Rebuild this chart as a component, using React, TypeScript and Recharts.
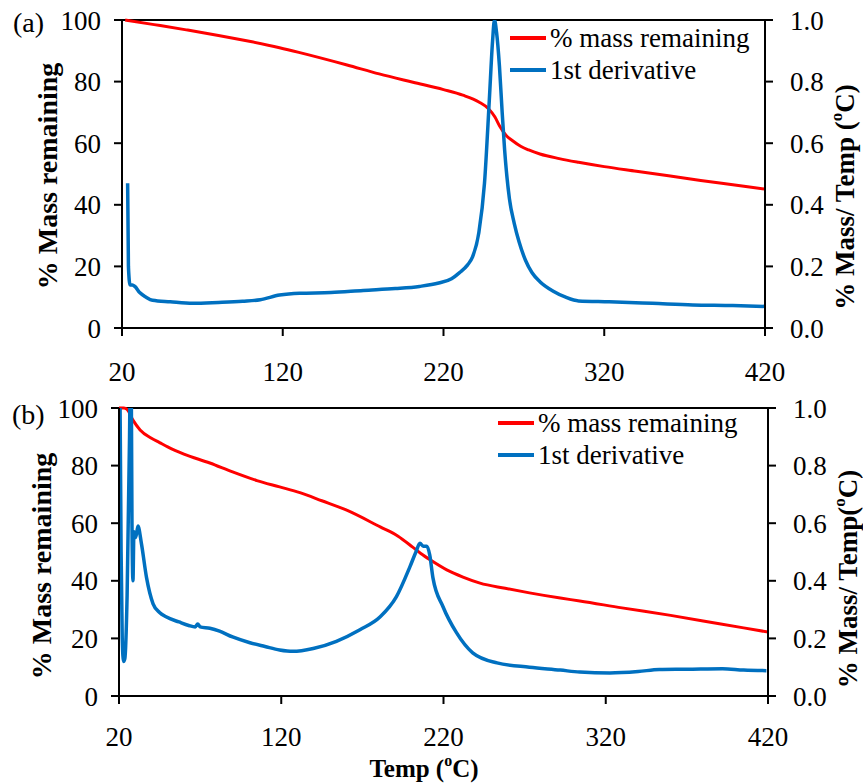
import { Line, LineChart, ReferenceLine, XAxis, YAxis } from "recharts";

const FONT = '"Liberation Serif", "Times New Roman", serif';
const RED = "#ff0000";
const BLUE = "#0070c0";

const xTicks = [20, 120, 220, 320, 420];
const massTicks = [0, 20, 40, 60, 80, 100];
const derivTicks = [0, 0.2, 0.4, 0.6, 0.8, 1.0];
const seriesNames = ["% mass remaining", "1st derivative"];

// panel (a)
const massATemp = [22, 40, 60, 80, 100, 118, 130, 160, 180, 201, 220, 232, 242, 248, 252, 255, 259, 263, 268, 273, 280, 292, 304, 320, 340, 360, 380, 400, 420];
const massA = [100, 98.5, 96.8, 95.0, 93.0, 91.0, 89.5, 85.4, 82.5, 79.8, 77.4, 75.6, 73.4, 71.2, 68.5, 65.5, 62.5, 60.8, 59.0, 57.8, 56.5, 55.0, 53.8, 52.4, 50.9, 49.4, 47.9, 46.5, 45.1];
const derivATemp = [23.5, 24, 25, 26.5, 28, 31, 35, 39, 50, 64, 80, 95, 106, 118, 130.5, 150, 170, 190, 205, 217, 225, 230, 235, 238, 242, 245.5, 248.5, 250.5, 251.7, 253, 254.8, 256.5, 258, 261, 264, 267, 271, 275, 280, 288, 296, 304, 323, 350, 375, 400, 420];
const derivA = [0.47, 0.2, 0.14, 0.14, 0.135, 0.115, 0.1, 0.09, 0.085, 0.08, 0.083, 0.087, 0.092, 0.107, 0.113, 0.115, 0.122, 0.128, 0.135, 0.146, 0.16, 0.18, 0.205, 0.23, 0.31, 0.47, 0.74, 0.93, 1.0, 0.96, 0.85, 0.7, 0.58, 0.42, 0.34, 0.28, 0.22, 0.18, 0.15, 0.12, 0.1, 0.088, 0.085, 0.08, 0.075, 0.073, 0.07];

// panel (b)
const massBTemp = [20, 23, 25, 28.6, 33, 40, 45, 50, 60, 76, 90, 105, 119, 131.5, 145, 160, 181, 192, 201, 206, 212, 222, 232, 242.5, 258, 273, 292, 304, 330, 360, 390, 420];
const massB = [100, 100, 99.5, 95.8, 92.4, 89.5, 88, 86.5, 84, 80.9, 77.8, 74.8, 72.6, 70.6, 67.8, 64.6, 58.7, 55.5, 51.7, 49.5, 47.2, 43.8, 41.3, 39.2, 37.4, 35.8, 34.0, 33.0, 30.6, 28.0, 25.1, 22.2];
const derivBTemp = [20.3, 21.3, 22.0, 22.8, 23.6, 25.0, 26.5, 27.3, 28.0, 28.6, 29.2, 30.3, 31.7, 33.8, 37, 41, 45, 49, 57, 63, 67, 68.5, 70, 76, 82, 90, 100.7, 110, 119, 127, 139.7, 154, 168.5, 181, 191, 199.4, 203, 205.5, 207.5, 209.8, 211.5, 213.5, 219.7, 228, 238, 253, 273, 292, 304, 322.6, 340, 353, 370, 392, 405, 419];
const derivB = [1.3, 0.5, 0.2, 0.12, 0.13, 0.35, 0.9, 1.3, 0.6, 0.4, 0.57, 0.55, 0.59, 0.53, 0.41, 0.32, 0.29, 0.275, 0.257, 0.245, 0.24, 0.25, 0.24, 0.235, 0.225, 0.205, 0.185, 0.172, 0.16, 0.155, 0.165, 0.19, 0.23, 0.275, 0.345, 0.45, 0.5, 0.53, 0.52, 0.52, 0.49, 0.41, 0.31, 0.22, 0.15, 0.115, 0.1, 0.09, 0.083, 0.08, 0.085, 0.092, 0.093, 0.095, 0.09, 0.088];

const toPoints = (ts: number[], vs: number[]) => ts.map((t, i) => ({ t, v: vs[i] }));

const axisLine = { stroke: "#000", strokeWidth: 2 };
const tickStyle = { fill: "#000", fontSize: 27, fontFamily: FONT };

function LeftTitle({ tx, ty, letter, lx, ly }: any) {
  return (
    <g>
      <text x={lx} y={ly} dominantBaseline="central" fontFamily={FONT} fontSize={28} fill="#000">
        {letter}
      </text>
      <text
        x={tx}
        y={ty}
        transform={`rotate(-90 ${tx} ${ty})`}
        textAnchor="middle"
        dominantBaseline="central"
        fontFamily={FONT}
        fontSize={28}
        fontWeight="bold"
        fill="#000"
      >
        % Mass remaining
      </text>
    </g>
  );
}

function RightTitle({ tx, ty, spaced }: any) {
  return (
    <text
      x={tx}
      y={ty}
      transform={`rotate(-90 ${tx} ${ty})`}
      textAnchor="middle"
      dominantBaseline="central"
      fontFamily={FONT}
      fontSize={27}
      fontWeight="bold"
      fill="#000"
    >
      {spaced ? "% Mass/ Temp (" : "% Mass/ Temp("}
      <tspan dy={-9} fontSize={17}>o</tspan>
      <tspan dy={9}>C)</tspan>
    </text>
  );
}

function BottomTitle({ tx, ty }: any) {
  return (
    <text x={tx} y={ty} textAnchor="middle" dominantBaseline="central" fontFamily={FONT} fontSize={25} fontWeight="bold" fill="#000">
      Temp (<tspan dy={-8} fontSize={16}>o</tspan>
      <tspan dy={8}>C)</tspan>
    </text>
  );
}

function LegendBox({ left, top }: { left: number; top: number }) {
  const colors = [RED, BLUE];
  return (
    <div style={{ position: "absolute", left, top, fontFamily: FONT, fontSize: 27, color: "#000" }}>
      {seriesNames.map((name, i) => (
        <div key={name} style={{ display: "flex", alignItems: "center", height: 32, whiteSpace: "nowrap" }}>
          <span style={{ display: "inline-block", width: 36, height: 4, background: colors[i], marginRight: 4 }} />
          <span>{name}</span>
        </div>
      ))}
    </div>
  );
}

function Panel(props: any) {
  const { massPts, derivPts, height, top, left, right, xHeight, tickGap, letter, titles, xTitle } = props;
  return (
    <LineChart width={863} height={height} margin={{ top, right: 0, bottom: 0, left: 0 }}>
      <XAxis
        xAxisId="x"
        dataKey="t"
        type="number"
        domain={[20, 420]}
        ticks={xTicks}
        allowDataOverflow
        height={xHeight}
        tickSize={8}
        tickMargin={tickGap}
        axisLine={axisLine}
        tickLine={axisLine}
        tick={tickStyle}
        label={xTitle ? <BottomTitle tx={xTitle.x} ty={xTitle.y} /> : undefined}
      />
      <YAxis
        yAxisId="mass"
        type="number"
        domain={[0, 100]}
        ticks={massTicks}
        width={left}
        tickSize={8}
        tickMargin={13}
        axisLine={axisLine}
        tickLine={axisLine}
        tick={tickStyle}
        label={<LeftTitle tx={titles.lx} ty={titles.ly} letter={letter} lx={titles.ax} ly={titles.ay} />}
      />
      <YAxis
        yAxisId="deriv"
        orientation="right"
        type="number"
        domain={[0, 1]}
        ticks={derivTicks}
        allowDataOverflow
        width={right}
        tickSize={8}
        tickMargin={17}
        axisLine={axisLine}
        tickLine={axisLine}
        tick={tickStyle}
        tickFormatter={(v: number) => v.toFixed(1)}
        label={<RightTitle tx={titles.rx} ty={titles.ry} spaced={titles.spaced} />}
      />
      <ReferenceLine xAxisId="x" yAxisId="mass" y={100} stroke="#000" strokeWidth={2} />
      <Line
        xAxisId="x"
        yAxisId="mass"
        data={massPts}
        dataKey="v"
        name={seriesNames[0]}
        type="monotone"
        stroke={RED}
        strokeWidth={3}
        dot={false}
        isAnimationActive={false}
      />
      <Line
        xAxisId="x"
        yAxisId="deriv"
        data={derivPts}
        dataKey="v"
        name={seriesNames[1]}
        type="monotone"
        stroke={BLUE}
        strokeWidth={3.5}
        dot={false}
        isAnimationActive={false}
      />
    </LineChart>
  );
}

export default function App() {
  return (
    <div style={{ position: "absolute", left: 0, top: 0, width: 863, height: 784, background: "#fff" }}>
      <div style={{ position: "absolute", left: 0, top: 0 }}>
        <Panel
          massPts={toPoints(massATemp, massA)}
          derivPts={toPoints(derivATemp, derivA)}
          height={390}
          top={20}
          left={122}
          right={98}
          xHeight={62}
          tickGap={26}
          letter="(a)"
          titles={{ lx: 47, ly: 176, ax: 13, ay: 22, rx: 845, ry: 197, spaced: true }}
        />
        <LegendBox left={510} top={22} />
      </div>
      <div style={{ position: "absolute", left: 0, top: 390 }}>
        <Panel
          massPts={toPoints(massBTemp, massB)}
          derivPts={toPoints(derivBTemp, derivB)}
          height={394}
          top={18}
          left={119}
          right={95}
          xHeight={88}
          tickGap={23}
          letter="(b)"
          titles={{ lx: 41, ly: 176, ax: 12, ay: 24, rx: 848, ry: 189, spaced: false }}
          xTitle={{ x: 424, y: 378 }}
        />
        <LegendBox left={498} top={17} />
      </div>
    </div>
  );
}
